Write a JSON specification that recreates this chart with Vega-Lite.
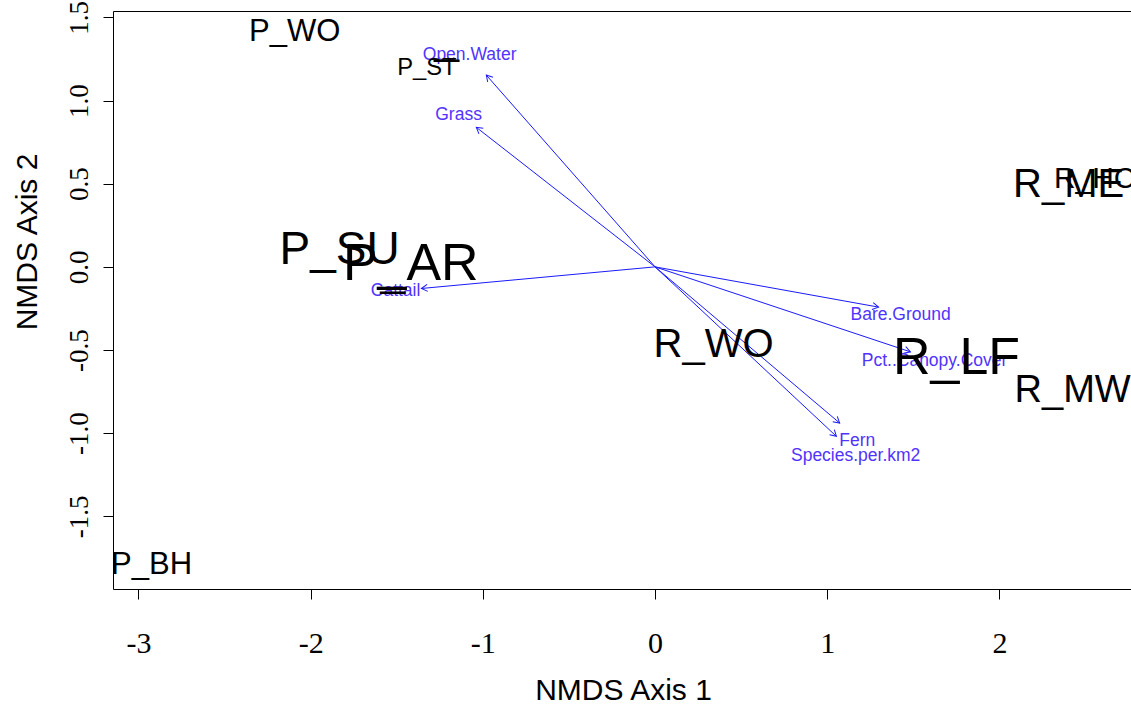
{
  "$schema": "https://vega.github.io/schema/vega-lite/v6.json",
  "autosize": {"type": "none"},
  "padding": {"left": 113, "top": 11, "right": 0, "bottom": 115},
  "width": 1018,
  "height": 578,
  "background": "white",
  "config": {
    "view": {"stroke": null},
    "axis": {
      "domainColor": "black", "domainWidth": 1,
      "tickColor": "black", "tickWidth": 1, "tickSize": 10,
      "labelFont": "Liberation Serif", "labelFontSize": 30, "labelColor": "black",
      "titleFont": "Liberation Sans", "titleFontSize": 30, "titleFontWeight": "normal", "titleColor": "black",
      "grid": false
    }
  },
  "datasets": {
    "vectors": [
      {"name": "Open.Water", "x": -0.980, "y": 1.153, "lx": -1.077, "ly": 1.271},
      {"name": "Grass", "x": -1.038, "y": 0.839, "lx": -1.141, "ly": 0.913},
      {"name": "Cattail", "x": -1.357, "y": -0.130, "lx": -1.507, "ly": -0.143},
      {"name": "Bare.Ground", "x": 1.298, "y": -0.242, "lx": 1.426, "ly": -0.288},
      {"name": "Pct..Canopy.Cover", "x": 1.483, "y": -0.511, "lx": 1.623, "ly": -0.564},
      {"name": "Fern", "x": 1.072, "y": -0.939, "lx": 1.174, "ly": -1.049},
      {"name": "Species.per.km2", "x": 1.053, "y": -1.019, "lx": 1.165, "ly": -1.139}
    ],
    "sites": [
      {"site": "P_WO", "x": -2.093, "y": 1.412, "cex": 1.41},
      {"site": "P_ST", "x": -1.325, "y": 1.196, "cex": 1.08},
      {"site": "P_SU", "x": -1.832, "y": 0.100, "cex": 2.09},
      {"site": "P_AR", "x": -1.419, "y": 0.016, "cex": 2.36},
      {"site": "R_WO", "x": 0.340, "y": -0.471, "cex": 1.82},
      {"site": "R_LF", "x": 1.751, "y": -0.549, "cex": 2.36},
      {"site": "R_MW", "x": 2.425, "y": -0.748, "cex": 1.73},
      {"site": "R_ME", "x": 2.402, "y": 0.492, "cex": 1.82},
      {"site": "R_HC", "x": 2.553, "y": 0.528, "cex": 1.36},
      {"site": "P_BH", "x": -2.924, "y": -1.795, "cex": 1.41}
    ],
    "dashes": [
      {"x": -1.211, "y": 1.244},
      {"x": -1.524, "y": -0.152}
    ]
  },
  "resolve": {"axis": {"x": "independent", "y": "independent"}},
  "layer": [
    {
      "data": {"name": "vectors"},
      "mark": {"type": "rule", "color": "#1a1aff", "strokeWidth": 1},
      "encoding": {
        "x": {"field": "x", "type": "quantitative",
              "scale": {"domain": [-3.148, 2.764], "nice": false, "zero": false},
              "axis": {"orient": "bottom", "values": [-3, -2, -1, 0, 1, 2],
                       "labelExpr": "replace(format(datum.value, 'd'), '−', '-')",
                       "labelBaseline": "alphabetic", "labelPadding": 53,
                       "title": "NMDS Axis 1", "titleX": 510, "titleY": 110,
                       "titleBaseline": "alphabetic", "titleAlign": "center"}},
        "x2": {"datum": 0},
        "y": {"field": "y", "type": "quantitative",
              "scale": {"domain": [-1.937, 1.5385], "nice": false, "zero": false},
              "axis": {"orient": "left", "values": [-1.5, -1, -0.5, 0, 0.5, 1, 1.5],
                       "labelExpr": "replace(format(datum.value, '.1f'), '−', '-')",
                       "labelFontSize": 27,
                       "labelAngle": -90, "labelAlign": "center", "labelBaseline": "alphabetic",
                       "labelPadding": 16,
                       "title": "NMDS Axis 2", "titleAngle": -90, "titleX": -76.5, "titleY": 230.5,
                       "titleAlign": "center", "titleBaseline": "alphabetic"}},
        "y2": {"datum": 0}
      }
    },
    {
      "data": {"name": "vectors"},
      "transform": [
        {"calculate": "atan2(datum.x * 172.2, datum.y * 166.2) * 180 / PI", "as": "bearing"}
      ],
      "mark": {"type": "point", "shape": "M-0.5,0.866L0,0L0.5,0.866", "filled": false,
               "stroke": "#1a1aff", "strokeWidth": 1, "size": 196, "opacity": 1},
      "encoding": {
        "x": {"field": "x", "type": "quantitative",
              "scale": {"domain": [-3.148, 2.764], "nice": false, "zero": false}, "axis": null},
        "y": {"field": "y", "type": "quantitative",
              "scale": {"domain": [-1.937, 1.5385], "nice": false, "zero": false}, "axis": null},
        "angle": {"field": "bearing", "type": "quantitative", "scale": null}
      }
    },
    {
      "data": {"name": "vectors"},
      "mark": {"type": "text", "font": "Liberation Sans", "fontSize": 17.5, "color": "#5033ff",
               "align": "center", "baseline": "middle"},
      "encoding": {
        "x": {"field": "lx", "type": "quantitative",
              "scale": {"domain": [-3.148, 2.764], "nice": false, "zero": false}, "axis": null},
        "y": {"field": "ly", "type": "quantitative",
              "scale": {"domain": [-1.937, 1.5385], "nice": false, "zero": false}, "axis": null},
        "text": {"field": "name"}
      }
    },
    {
      "data": {"name": "sites"},
      "mark": {"type": "text", "font": "Liberation Sans", "color": "black",
               "align": "center", "baseline": "middle"},
      "encoding": {
        "x": {"field": "x", "type": "quantitative",
              "scale": {"domain": [-3.148, 2.764], "nice": false, "zero": false}, "axis": null},
        "y": {"field": "y", "type": "quantitative",
              "scale": {"domain": [-1.937, 1.5385], "nice": false, "zero": false}, "axis": null},
        "size": {"field": "cex", "type": "quantitative",
                 "scale": {"type": "linear", "domain": [0, 3], "range": [0, 66]}, "legend": null},
        "text": {"field": "site"}
      }
    },
    {
      "data": {"name": "dashes"},
      "mark": {"type": "text", "text": "—", "font": "Liberation Sans", "fontWeight": "bold",
               "fontSize": 26, "color": "black", "align": "center", "baseline": "middle"},
      "encoding": {
        "x": {"field": "x", "type": "quantitative",
              "scale": {"domain": [-3.148, 2.764], "nice": false, "zero": false},
              "axis": {"orient": "top", "labels": false, "ticks": false, "domain": true, "title": null}},
        "y": {"field": "y", "type": "quantitative",
              "scale": {"domain": [-1.937, 1.5385], "nice": false, "zero": false}, "axis": null}
      }
    }
  ]
}
